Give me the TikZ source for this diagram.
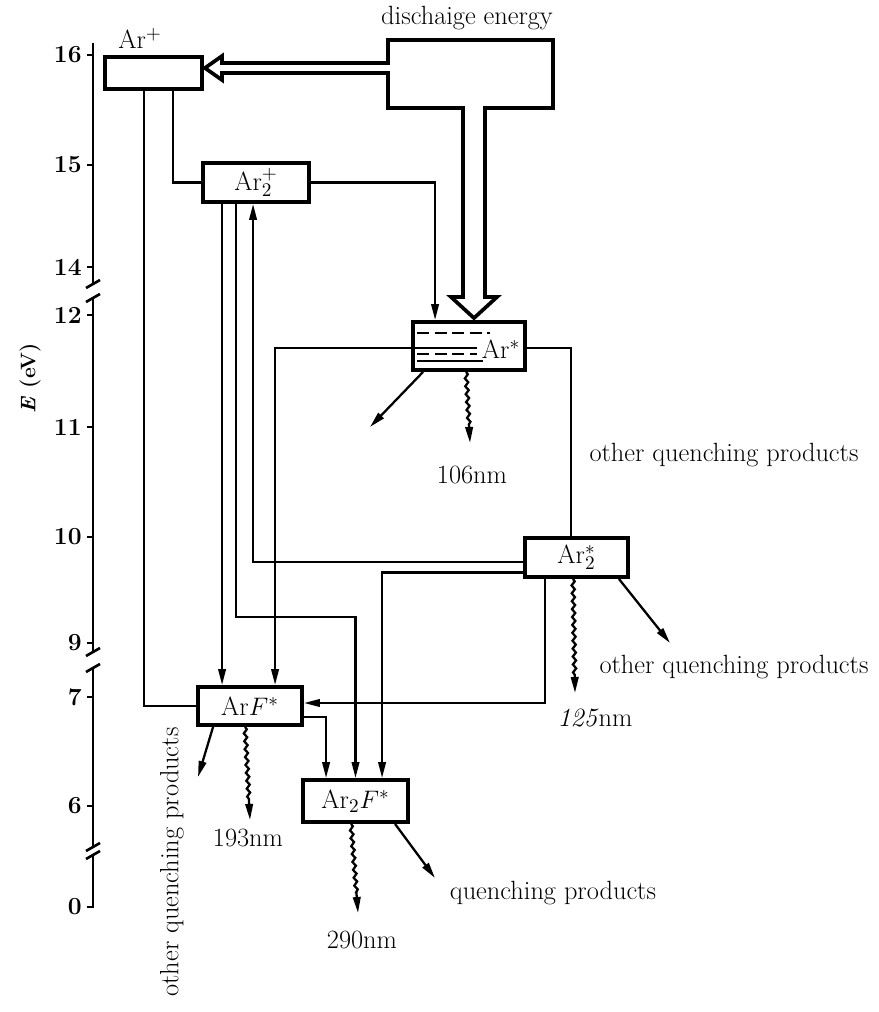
\documentclass[tikz,border=0pt]{standalone}
\usepackage{tikz}
\usetikzlibrary{arrows.meta,calc,decorations.pathmorphing}
\tikzset{
  box/.style 2 args={draw=black, line width=2.2pt, inner sep=0pt, minimum width=#1*0.2mm, minimum height=#2*0.2mm, font=\fontsize{15}{17}\selectfont},
  ln/.style={draw=black, line width=1.3pt},
  arr/.style={ln, -{Triangle[length=3.2mm,width=1.5mm]}},
  wav/.style={arr, decorate, decoration={snake, amplitude=0.9pt, segment length=4.5pt, post length=3.6mm}},
  hollow/.style={draw=black, line width=2.1pt, line join=miter},
  levsolid/.style={draw=black, line width=1pt},
  levdash/.style={draw=black, line width=1pt, dash pattern=on 2.4mm off 1.1mm},
  lbl/.style={font=\fontsize{15}{17}\selectfont, inner sep=0pt},
  axln/.style={draw=black, line width=1.5pt},
  axnum/.style={font=\fontsize{14}{16}\selectfont\bfseries, anchor=east, inner sep=0pt},
  axttl/.style={font=\fontsize{12}{14}\selectfont\bfseries, inner sep=0pt, rotate=90},
}

\begin{document}
\begin{tikzpicture}[x=0.2mm,y=-0.2mm]
  \useasboundingbox (0,0) rectangle (878,1012);
  % energy axis with breaks
  \draw[axln] (93,43) -- (93,284);
  \draw[axln] (93,298) -- (93,652);
  \draw[axln] (93,668) -- (93,847);
  \draw[axln] (93,855) -- (93,907) -- (87,907);
  \foreach \yb in {284,298,652,668,847,855}
    \draw[axln] (86,\yb+4) -- (100,\yb-4);
  \foreach \yv/\ev in {55/16,165/15,267/14,315/12,427/11,537/10,643/9,697/7,806/6,907/0}{
    \draw[axln] (87,\yv) -- (93,\yv);
    \node[axnum] (ax\ev) at (82,\yv) {\ev};
  }
  \node[axttl] (eaxis) at (30,378) {\textit{E} (eV)};

  % levels
  \node[box={97}{32}] (arp) at (153.5,73) {};
  \node[lbl] (arplbl) at (140,38) {Ar$^{+}$};
  \node[box={106}{39}] (artwop) at (256,182.5) {Ar$_2^{+}$};
  \node[box={112}{48}] (arstar) at (469,346) {};
  \node[lbl] (arstarlbl) at (501,349) {Ar$^{*}$};
  \node[box={103}{39}] (artwostar) at (576.5,557.5) {Ar$_2^{*}$};
  \node[box={104}{38}] (arf) at (250,706) {Ar$F^{*}$};
  \node[box={105}{42}] (artwof) at (355.5,801) {Ar$_2F^{*}$};

  % sublevels of Ar*
  \draw[levdash] (417,333) -- (490,333);
  \draw[levsolid] (413,348) -- (477,348);
  \draw[levdash] (417,354) -- (477,354);
  \draw[levsolid] (417,361) -- (483,361);

  % discharge energy
  \node[lbl] (dislbl) at (467,18) {dischaige energy};
  \coordinate (tipl) at ($(arp.east)+(1,-5)$);
  \coordinate (tipd) at ($(arstar.north)+(5,-2)$);
  \draw[hollow] (388,73) -- (388,108) -- (463,108) -- (463,297) -- (451,297) -- (tipd)
    -- (497,297) -- (485,297) -- (485,108) -- (553,108) -- (553,40) -- (388,40)
    -- (388,63) -- (222,63) -- (222,56) -- (tipl) -- (222,80) -- (222,73) -- cycle;

  % transfers
  \draw[ln] ($(arp.south west)+(70,0)$) |- (artwop.west);
  \draw[ln] ($(arp.south west)+(41,0)$) |- (arf.west);
  \draw[arr] (artwop.east) -| ($(arstar.north west)+(24,0)$);
  \draw[arr] ($(artwop.south west)+(21,0)$) -- ($(arf.north west)+(26,0)$);
  \draw[arr] ($(artwop.south west)+(35,0)$) -- ++(0,413) -| (artwof.north);
  \draw[arr] ($(artwostar.west)+(0,4.5)$) -| ($(artwop.south west)+(52,0)$);
  \draw[arr] ($(arstar.west)+(0,2)$) -| ($(arf.north west)+(79,0)$);
  \draw[ln] ($(arstar.east)+(0,2)$) -| ($(artwostar.north west)+(48,0)$);
  \draw[arr] ($(artwostar.west)+(0,15)$) -| ($(artwof.north west)+(81,0)$);
  \draw[arr] ($(artwostar.south west)+(22,0)$) |- ($(arf.east)+(0,-3)$);
  \draw[arr] ($(arf.east)+(0,11)$) -| ($(artwof.north west)+(25,0)$);

  % decay of Ar*
  \coordinate (qa) at (370,427);
  \coordinate (wa) at (470,443);
  \draw[arr] ($(arstar.south west)+(12,0)$) -- (qa);
  \draw[wav] ($(arstar.south west)+(55,0)$) -- (wa);
  \node[lbl] (nma) at (472,475) {106nm};
  \node[lbl] (oqa) at (724,455) {other quenching products};

  % decay of Ar2*
  \coordinate (qb) at (670,643);
  \coordinate (wb) at (575,693);
  \draw[arr] ($(artwostar.south east)+(-11,0)$) -- (qb);
  \draw[wav] ($(artwostar.south west)+(50,0)$) -- (wb);
  \node[lbl] (nmb) at (595,718) {\textit{125}nm};
  \node[lbl] (oqb) at (734,667) {other quenching products};

  % decay of ArF*
  \coordinate (qc) at (198,777);
  \coordinate (wc) at (250,820);
  \draw[arr] ($(arf.south west)+(17,0)$) -- (qc);
  \draw[wav] ($(arf.south west)+(49,0)$) -- (wc);
  \node[lbl] (nmc) at (248,838) {193nm};
  \node[lbl, rotate=90] (oqc) at (172,862) {other quenching products};

  % decay of Ar2F*
  \coordinate (qd) at (435,878);
  \coordinate (wd) at (358,913);
  \draw[arr] ($(artwof.south west)+(94,0)$) -- (qd);
  \draw[wav] ($(artwof.south west)+(50,0)$) -- (wd);
  \node[lbl] (nmd) at (362,940) {290nm};
  \node[lbl] (qpd) at (553,893) {quenching products};
\end{tikzpicture}
\end{document}
